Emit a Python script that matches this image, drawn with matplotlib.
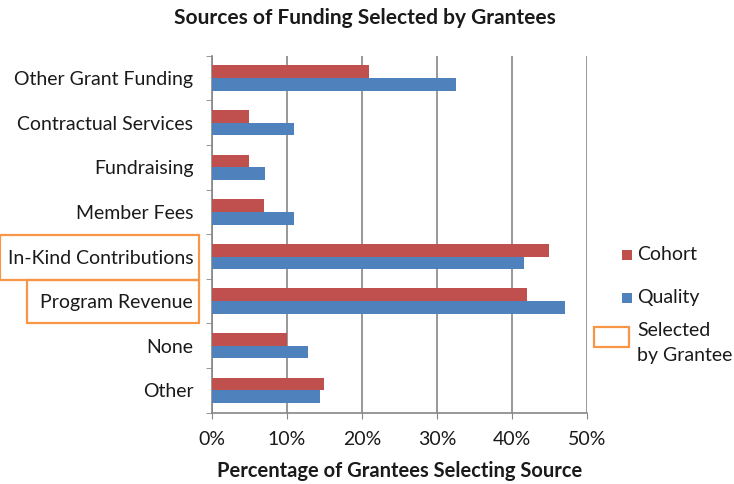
import matplotlib
matplotlib.use("Agg")
import matplotlib.pyplot as plt
from matplotlib.patches import Rectangle
import numpy as np

plt.rcParams['font.family'] = ['Lato', 'DejaVu Sans']

categories = ["Other Grant Funding", "Contractual Services", "Fundraising", "Member Fees",
              "In-Kind Contributions", "Program Revenue", "None", "Other"]
cohort = [21, 5, 5, 7, 45, 42, 10, 15]
quality = [32.5, 11, 7.1, 11, 41.7, 47.1, 12.8, 14.4]
series_names = ["Cohort", "Quality"]
selected = ["In-Kind Contributions", "Program Revenue"]
xticks = [0, 10, 20, 30, 40, 50]

RED = "#C0504D"
BLUE = "#4F81BD"
ORANGE = "#F79646"
GRID = "#868686"
TXT = "#1a1a1a"
FS = 14

W, H = 734, 484
fig = plt.figure(figsize=(W/100, H/100), dpi=100)
ax = fig.add_axes([212/W, 1-412.7/H, (586.7-212)/W, (412.7-55.7)/H])

y = np.arange(len(categories))
bh = 0.285
ax.barh(y - bh/2, cohort, height=bh, color=RED, label=series_names[0], zorder=3)
ax.barh(y + bh/2, quality, height=bh, color=BLUE, label=series_names[1], zorder=3)

ax.set_ylim(len(categories)-0.5, -0.5)
ax.set_xlim(0, 50)
ax.set_xticks(xticks)
ax.set_xticklabels([f"{v}%" for v in xticks], fontsize=FS, color=TXT)
ax.set_yticks(y)
ax.set_yticklabels(categories, fontsize=FS, color=TXT)
ax.tick_params(axis='y', length=0, pad=13.5)
ax.set_yticks(np.arange(-0.5, len(categories)), minor=True)
ax.tick_params(axis='y', which='minor', length=4, color=GRID, direction='out')
ax.tick_params(axis='x', length=4, color=GRID, direction='out', pad=9)
ax.grid(axis='x', color=GRID, linewidth=1.2, zorder=0)
for s in ['top', 'right']:
    ax.spines[s].set_visible(False)
for s in ['left', 'bottom']:
    ax.spines[s].set_color(GRID)
    ax.spines[s].set_linewidth(1.2)

fig.text(365/W, 1-18/H, "Sources of Funding Selected by Grantees", ha='center', va='center',
         fontsize=15, fontweight='bold', color=TXT)
fig.text(400/W, 1-471/H, "Percentage of Grantees Selecting Source", ha='center', va='center',
         fontsize=14.5, fontweight='bold', color=TXT)

# orange boxes around selected categories
boxes = [(0, 235, 199, 280), (26.7, 280, 199, 323)]
for (x0, y0, x1, y1) in boxes:
    fig.patches.append(Rectangle((x0/W, 1-y1/H), (x1-x0)/W, (y1-y0)/H, transform=fig.transFigure,
                                 fill=False, edgecolor=ORANGE, linewidth=1.6, clip_on=False))

# legend
for name, col, yc in [(series_names[0], RED, 255), (series_names[1], BLUE, 298)]:
    fig.patches.append(Rectangle((622/W, 1-(yc+5)/H), 10/W, 10/H, transform=fig.transFigure,
                                 facecolor=col, edgecolor='none'))
    fig.text(637/W, 1-yc/H, name, ha='left', va='center', fontsize=FS, color=TXT)
fig.patches.append(Rectangle((594/W, 1-347/H), 35/W, 20/H, transform=fig.transFigure,
                             fill=False, edgecolor=ORANGE, linewidth=1.6))
fig.text(637/W, 1-330/H, "Selected", ha='left', va='center', fontsize=FS, color=TXT)
fig.text(637/W, 1-356/H, "by Grantee", ha='left', va='center', fontsize=FS, color=TXT)

fig.savefig("out.png", dpi=100)
